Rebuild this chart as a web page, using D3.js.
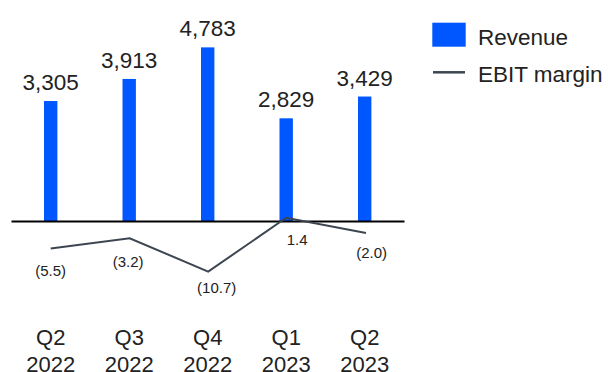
<!DOCTYPE html>
<html><head><meta charset="utf-8">
<script src="https://cdn.jsdelivr.net/npm/d3@7"></script>
<style>html,body{margin:0;padding:0;background:#fff;}svg{display:block;}</style>
</head><body>
<svg id="chart" width="608" height="372"></svg>
<script>
const quarters = ["Q2", "Q3", "Q4", "Q1", "Q2"];
const years = ["2022", "2022", "2022", "2023", "2023"];
const revenue = [3305, 3913, 4783, 2829, 3429];
const ebitMargin = [-5.5, -3.2, -10.7, 1.4, -2.0];
const seriesNames = ["Revenue", "EBIT margin"];

const svg = d3.select("#chart");
const font = "'Liberation Sans', Arial, sans-serif";
const blue = "#0057ff";
const lineColor = "#3d4650";
const idx = d3.range(revenue.length);

const x = d3.scalePoint().domain(idx).range([50.7, 364.7]);
const yBar = d3.scaleLinear().domain([0, 5000]).range([221, 39.5]);
const yLine = d3.scaleLinear().domain([0, -10]).range([224, 268.5]);
const fmt = d3.format(",");
const fmtM = v => v < 0 ? "(" + d3.format(".1f")(-v) + ")" : d3.format(".1f")(v);
const barW = 13.4;

// bars
svg.selectAll("rect.bar").data(idx).join("rect")
  .attr("x", i => x(i) - barW / 2)
  .attr("y", i => yBar(revenue[i]))
  .attr("width", barW)
  .attr("height", i => yBar(0) - yBar(revenue[i]))
  .attr("fill", blue);

// value labels
svg.selectAll("text.val").data(idx).join("text")
  .attr("x", i => x(i))
  .attr("y", i => yBar(revenue[i]) - 11)
  .attr("text-anchor", "middle")
  .attr("font-family", font).attr("font-size", 22.5).attr("fill", "#222")
  .text(i => fmt(revenue[i]));

// baseline axis
const axis = svg.append("g").attr("transform", `translate(0,${yBar(0)})`)
  .call(d3.axisBottom(d3.scaleLinear().range([11, 404])).ticks(0).tickSize(0).tickFormat(""));
axis.select(".domain").attr("stroke", "#000").attr("stroke-width", 2);

// EBIT margin line
const line = d3.line().x(i => x(i) + (i === 1 ? 0.5 : i === 2 ? 0.5 : i === 4 ? 1.3 : 0)).y(i => yLine(ebitMargin[i]));
svg.append("path").datum(idx).attr("d", line)
  .attr("fill", "none").attr("stroke", lineColor).attr("stroke-width", 2);

// margin labels (layout offsets)
const labDx = [0, -1, 9, 11, 7];
const labDy = [22, 24, 16, 22, 20];
svg.selectAll("text.m").data(idx).join("text")
  .attr("x", i => x(i) + labDx[i])
  .attr("y", i => yLine(ebitMargin[i]) + labDy[i])
  .attr("dy", "0.35em")
  .attr("text-anchor", "middle")
  .attr("font-family", font).attr("font-size", 15).attr("fill", "#222")
  .text(i => fmtM(ebitMargin[i]));

// category labels
const cat = svg.selectAll("text.cat").data(idx).join("text")
  .attr("text-anchor", "middle")
  .attr("font-family", font).attr("font-size", 22).attr("fill", "#222");
cat.append("tspan").attr("x", i => x(i)).attr("y", 345).text(i => quarters[i]);
cat.append("tspan").attr("x", i => x(i)).attr("y", 371.5).text(i => years[i]);

// legend
const lg = svg.append("g").attr("font-family", font).attr("font-size", 22.5).attr("fill", "#222");
lg.append("rect").attr("x", 432.3).attr("y", 22.7).attr("width", 33.4).attr("height", 24).attr("fill", blue);
lg.append("text").attr("x", 478).attr("y", 45).text(seriesNames[0]);
lg.append("line").attr("x1", 433).attr("x2", 465).attr("y1", 72.3).attr("y2", 72.3)
  .attr("stroke", lineColor).attr("stroke-width", 2.5);
lg.append("text").attr("x", 478).attr("y", 81.5).text(seriesNames[1]);
</script>
</body></html>
